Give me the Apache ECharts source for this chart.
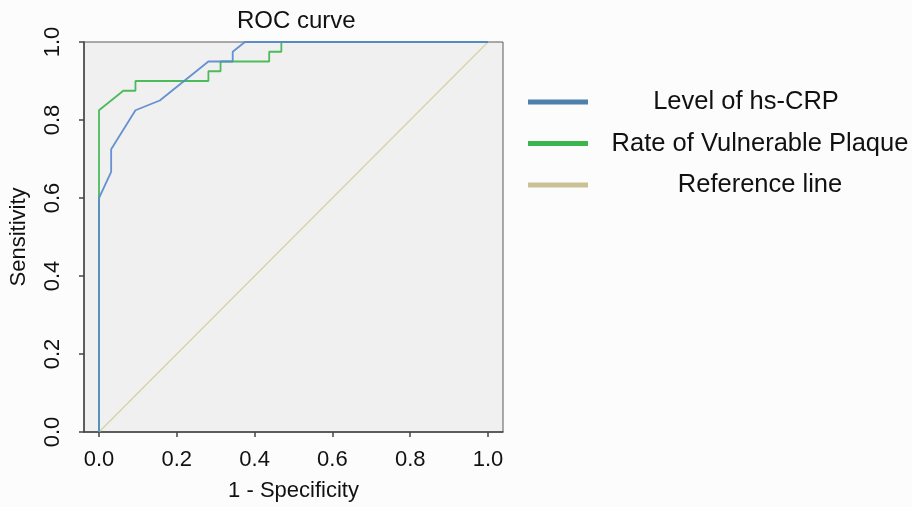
<!DOCTYPE html>
<html>
<head>
<meta charset="utf-8">
<script src="https://cdn.jsdelivr.net/npm/echarts@6/dist/echarts.min.js"></script>
<style>
html,body{margin:0;padding:0;background:#fcfcfc;}
#chart{width:912px;height:507px;}
</style>
</head>
<body>
<div id="chart"></div>
<script>
// Data
var tickValues = [0, 0.2, 0.4, 0.6, 0.8, 1.0];
var seriesNames = ['Level of hs-CRP', 'Rate of Vulnerable Plaque', 'Reference line'];
var crpFpr  = [0, 0, 0.03125, 0.03125, 0.09375, 0.15625, 0.28125, 0.34375, 0.34375, 0.375, 1];
var crpSens = [0, 0.6, 0.667, 0.725, 0.825, 0.85, 0.95, 0.95, 0.975, 1, 1];
var plaqueFpr  = [0, 0, 0.0625, 0.09375, 0.09375, 0.28125, 0.28125, 0.3125, 0.3125, 0.4375, 0.4375, 0.46875, 0.46875, 1];
var plaqueSens = [0, 0.825, 0.875, 0.875, 0.9, 0.9, 0.925, 0.925, 0.95, 0.95, 0.975, 0.975, 1, 1];
var refX = [0, 1];
var refY = [0, 1];

function zip(a, b) { return a.map(function (v, i) { return [v, b[i]]; }); }
function fmt(v) { return Number(v).toFixed(1); }

var font = 'Liberation Sans, Arial, sans-serif';
var chart = echarts.init(document.getElementById('chart'));
chart.setOption({
  backgroundColor: '#fcfcfc',
  animation: false,
  title: {
    text: 'ROC curve', left: 237, top: 9, padding: 0,
    textStyle: { fontFamily: font, fontSize: 24, fontWeight: 'normal', color: '#111' }
  },
  legend: {
    orient: 'vertical', left: 523, top: 84,
    itemWidth: 60, itemHeight: 5, itemGap: 15.5, icon: 'rect',
    data: [
      { name: seriesNames[0], itemStyle: { color: '#4f7fab' } },
      { name: seriesNames[1], itemStyle: { color: '#3cb54f' } },
      { name: seriesNames[2], itemStyle: { color: '#cbc197' } }
    ],
    formatter: function (n) { return n === seriesNames[0] ? '{b|' + n + '}' : '{a|' + n + '}'; },
    textStyle: {
      fontFamily: font, fontSize: 25.5, color: '#111',
      rich: {
        a: { width: 334, align: 'center', fontSize: 25.5, lineHeight: 30, fontFamily: font, color: '#111' },
        b: { width: 306, align: 'center', padding: [0, 28, 0, 0], fontSize: 25.5, lineHeight: 30, fontFamily: font, color: '#111' }
      }
    }
  },
  grid: {
    left: 84, top: 42, width: 419, height: 390, show: true,
    backgroundColor: '#f0f0f0', borderColor: '#5a5a5a', borderWidth: 1
  },
  xAxis: {
    type: 'value', min: -0.03856, max: 1.03856,
    name: '1 - Specificity', nameLocation: 'middle', nameGap: 48,
    nameTextStyle: { fontFamily: font, fontSize: 22, color: '#111' },
    axisLine: { show: true, onZero: false, lineStyle: { color: '#444', width: 1.5 } },
    axisTick: { show: true, customValues: tickValues, length: 5, lineStyle: { color: '#444', width: 1.5 } },
    axisLabel: { customValues: tickValues, formatter: fmt, margin: 17, fontFamily: font, fontSize: 22, color: '#111' },
    splitLine: { show: false }
  },
  yAxis: {
    type: 'value', min: 0, max: 1, interval: 0.2,
    name: 'Sensitivity', nameLocation: 'middle', nameGap: 54, nameRotate: 90,
    nameTextStyle: { fontFamily: font, fontSize: 22, color: '#111' },
    axisLine: { show: true, onZero: false, lineStyle: { color: '#444', width: 1.5 } },
    axisTick: { show: true, length: 5, lineStyle: { color: '#444', width: 1.5 } },
    axisLabel: { rotate: 90, formatter: fmt, margin: 20, fontFamily: font, fontSize: 22, color: '#111' },
    splitLine: { show: false }
  },
  series: [
    {
      name: seriesNames[2], type: 'line', data: zip(refX, refY), showSymbol: false,
      lineStyle: { color: '#d8d1a6', width: 1.3 }, itemStyle: { color: '#cbc197' }, z: 1
    },
    {
      name: seriesNames[1], type: 'line', data: zip(plaqueFpr, plaqueSens), showSymbol: false,
      lineStyle: { color: '#4dbb5c', width: 1.8 }, itemStyle: { color: '#3cb54f' }, z: 2
    },
    {
      name: seriesNames[0], type: 'line', data: zip(crpFpr, crpSens), showSymbol: false,
      lineStyle: { color: '#5587cc', width: 1.8, opacity: 0.9 }, itemStyle: { color: '#4f7fab' }, z: 3
    }
  ]
});
</script>
</body>
</html>
